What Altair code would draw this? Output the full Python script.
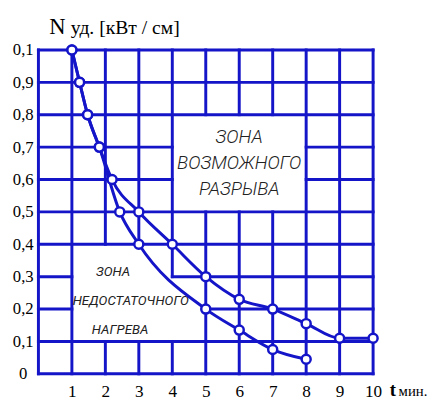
import altair as alt
import pandas as pd

BLUE = "#1414c8"
SERIF = "Liberation Serif, Times New Roman, serif"
NARROW = "Roboto, 'DejaVu Sans Condensed', sans-serif"

# ---- data ----
upper_t = [1, 1.23, 1.47, 1.82, 2.2, 3, 4, 5, 6, 7, 8, 9, 10]
upper_n = [1.0, 0.9, 0.8, 0.7, 0.6, 0.5, 0.4, 0.3, 0.23, 0.2, 0.155, 0.11, 0.11]
lower_t = [1, 1.23, 1.47, 1.82, 2.43, 3, 5, 6, 7, 8]
lower_n = [1.0, 0.9, 0.8, 0.7, 0.5, 0.4, 0.2, 0.135, 0.075, 0.045]

x_ticks = [1, 2, 3, 4, 5, 6, 7, 8, 9, 10]
y_ticks = [0, 0.1, 0.2, 0.3, 0.4, 0.5, 0.6, 0.7, 0.8, 0.9, 1.0]
y_tick_labels = ["0", "0,1", "0,2", "0,3", "0,4", "0,5", "0,6", "0,7", "0,8", "0,9", "0,1"]

# zones, as blocks of grid cells (t from, t to, tenth from, tenth to)
zone_upper_cells = [(4, 8, 5, 8)]
zone_lower_cells = [(1, 4, 1, 4), (4, 5, 1, 3)]

zone_upper_text = ["ЗОНА", "ВОЗМОЖНОГО", "РАЗРЫВА"]
zone_upper_t = [6, 6, 6]
zone_upper_n = [0.73, 0.65, 0.57]
zone_lower_text = ["ЗОНА", "НЕДОСТАТОЧНОГО", "НАГРЕВА"]
zone_lower_t = [2.23, 2.76, 2.44]
zone_lower_n = [0.315, 0.224, 0.136]

# ---- grid segments (hidden inside the zones) ----
zones = [zone_upper_cells, zone_lower_cells]


def zone_of(i, j):
    for zi, cells in enumerate(zones):
        for a, b, c, d in cells:
            if a <= i < b and c <= j < d:
                return zi
    return None


segs = []
for k in range(11):  # vertical lines
    start = None
    for j in range(11):
        vis = j < 10 and (k in (0, 10) or zone_of(k - 1, j) is None or zone_of(k - 1, j) != zone_of(k, j))
        if vis and start is None:
            start = j
        if not vis and start is not None:
            segs.append(dict(x=k, x2=k, y=start / 10, y2=j / 10))
            start = None
for m in range(11):  # horizontal lines
    start = None
    for i in range(11):
        vis = i < 10 and (m in (0, 10) or zone_of(i, m - 1) is None or zone_of(i, m - 1) != zone_of(i, m))
        if vis and start is None:
            start = i
        if not vis and start is not None:
            segs.append(dict(x=start, x2=i, y=m / 10, y2=m / 10))
            start = None
grid_df = pd.DataFrame(segs)

curves = pd.DataFrame(
    [dict(t=t, n=n, s="upper", o=i) for i, (t, n) in enumerate(zip(upper_t, upper_n))]
    + [dict(t=t, n=n, s="lower", o=i) for i, (t, n) in enumerate(zip(lower_t, lower_n))]
)
ztext = pd.DataFrame(
    [dict(t=t, n=n, txt=s, z="u") for s, t, n in zip(zone_upper_text, zone_upper_t, zone_upper_n)]
    + [dict(t=t, n=n, txt=s, z="l") for s, t, n in zip(zone_lower_text, zone_lower_t, zone_lower_n)]
)

xs = alt.Scale(domain=[0, 10], nice=False, zero=False)
ys = alt.Scale(domain=[0, 1], nice=False, zero=False)

label_expr = "[" + ",".join("'%s'" % s for s in y_tick_labels) + "][round(datum.value*10)]"

x_axis = alt.Axis(values=x_ticks, domain=False, ticks=False, grid=False,
                  labelFont=SERIF, labelFontSize=17.5, labelColor="black",
                  labelPadding=9, labelOverlap=False, labelFlush=False, title=None)
y_axis = alt.Axis(values=y_ticks, domain=False, ticks=False, grid=False,
                  labelFont=SERIF, labelFontSize=17, labelColor="black",
                  labelAlign="center", labelPadding=16, labelExpr=label_expr,
                  labelOverlap=False, labelFlush=False, title=None)


def X(f):
    return alt.X(f, scale=xs, axis=x_axis)


def Y(f):
    return alt.Y(f, scale=ys, axis=y_axis)


grid = alt.Chart(grid_df).mark_rule(color=BLUE, strokeWidth=3, strokeCap="square").encode(
    x=X("x:Q"), x2="x2:Q", y=Y("y:Q"), y2="y2:Q",
)

text_u = alt.Chart(ztext).transform_filter("datum.z == 'u'").mark_text(
    font=NARROW, fontStyle="italic", fontWeight=300, fontSize=19, color="#222222"
).encode(x=X("t:Q"), y=Y("n:Q"), text="txt:N")

text_l = alt.Chart(ztext).transform_filter("datum.z == 'l'").mark_text(
    font=NARROW, fontStyle="italic", fontSize=13.5, color="#222222"
).encode(x=X("t:Q"), y=Y("n:Q"), text="txt:N")

lines = alt.Chart(curves).mark_line(color=BLUE, strokeWidth=3, interpolate="monotone").encode(
    x=X("t:Q"), y=Y("n:Q"), detail="s:N", order="o:Q"
)
points = alt.Chart(curves).mark_point(
    shape="circle", filled=True, fill="white", stroke=BLUE, strokeWidth=2.5, size=85, opacity=1
).encode(x=X("t:Q"), y=Y("n:Q"))

lbl = pd.DataFrame({"a": ["N"], "b": ["уд. [кВт / см]"], "c": ["t"], "d": ["мин."]})
title_n = alt.Chart(lbl).mark_text(font=SERIF, fontSize=23, align="left", baseline="alphabetic", color="black").encode(
    x=alt.value(11), y=alt.value(-16), text="a:N")
title_rest = alt.Chart(lbl).mark_text(font=SERIF, fontSize=20, align="left", baseline="alphabetic", color="black").encode(
    x=alt.value(33), y=alt.value(-16), text="b:N")
t_lab = alt.Chart(lbl).mark_text(font=SERIF, fontSize=19, fontWeight="bold", align="left", baseline="alphabetic", color="black").encode(
    x=alt.value(358), y=alt.value(353), text="c:N")
t_unit = alt.Chart(lbl).mark_text(font=SERIF, fontSize=15, align="left", baseline="alphabetic", color="black").encode(
    x=alt.value(367), y=alt.value(353), text="d:N")

chart = alt.layer(grid, text_u, text_l, lines, points, title_n, title_rest, t_lab, t_unit).properties(
    width=341, height=330,
    autosize=alt.AutoSizeParams(type="none"),
    padding={"left": 31, "top": 39, "right": 59, "bottom": 28},
).configure_view(stroke=None).configure(background="white")

chart.save("out.html", embed_options={"renderer": "svg", "actions": False})
